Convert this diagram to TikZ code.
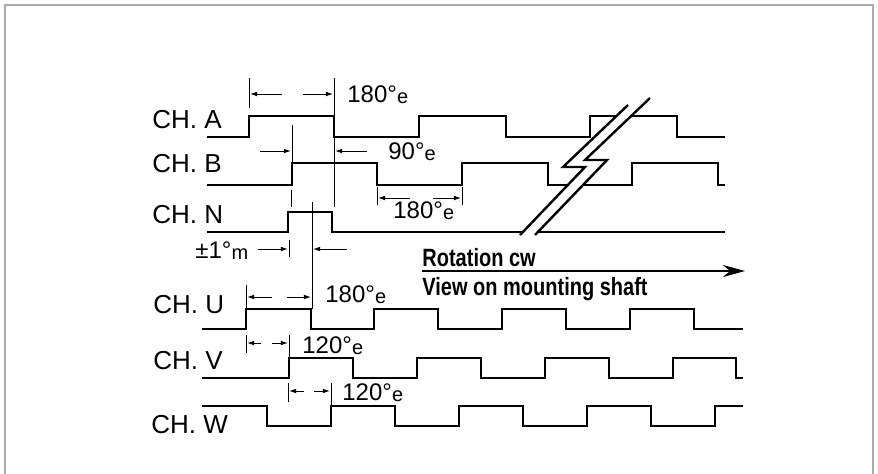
\documentclass[tikz,border=0pt]{standalone}
\usepackage{fontspec}
\setmainfont{Liberation Sans}
\newfontfamily\rotfont[FakeStretch=0.8]{Liberation Sans}
\usetikzlibrary{arrows.meta}
\definecolor{framegray}{RGB}{172,172,172}
\newcommand{\degsub}[1]{\raisebox{-0.6pt}{\fontsize{10}{12}\selectfont #1}}

\begin{document}
\begin{tikzpicture}[x=0.5pt,y=-0.5pt,>={Latex[length=3.6pt,width=2.4pt]},
  wave/.style={line width=1.2pt,line join=miter},
  dim/.style={line width=0.5pt},
  chlab/.style={anchor=base west,inner sep=0pt,font=\fontsize{13}{15}\selectfont},
  dimlab/.style={anchor=base west,inner sep=0pt,font=\fontsize{12}{14}\selectfont},
  rotlab/.style={anchor=base west,inner sep=0pt,font=\rotfont\bfseries\fontsize{12.5}{14}\selectfont}]
\useasboundingbox (0,0) rectangle (878,473);
% cornice
\draw[framegray,line width=1pt] (5,480) -- (5,5) -- (873,5) -- (873,480);

% etichette dei canali
\node[chlab] (chA) at (152,128) {CH. A};
\node[chlab] (chB) at (152,172) {CH. B};
\node[chlab] (chN) at (152,223) {CH. N};
\node[chlab] (chU) at (153,313) {CH. U};
\node[chlab] (chV) at (153,369) {CH. V};
\node[chlab] (chW) at (151,433) {CH. W};

% canali A, B, N
\draw[wave] (207,137) -| (249,116) -| (334,137) -| (419,116) -| (506,137) -| (590,116) -| (677,137) -- (725,137);
\draw[wave] (207,185) -| (292,163) -| (377,185) -| (462,163) -| (548,185) -| (632,163) -| (718,185) -- (725,185);
\draw[wave] (207,232) -| (288,212) -| (332,232) -- (725,232);
% interruzione a fulmine
\fill[white] (628,105) -- (563,167) -- (585,167) -- (520,235) -- (535,235) -- (607,160) -- (585,160) -- (650,98) -- cycle;
\draw[wave] (628,105) -- (563,167) -- (585,167) -- (520,235);
\draw[wave] (650,98) -- (585,160) -- (607,160) -- (535,235);

% canali U, V, W
\draw[wave] (202,329) -| (246,309) -| (311,329) -| (374,309) -| (438,329) -| (502,309) -| (566,329) -| (630,309) -| (694,329) -- (743,329);
\draw[wave] (202,378) -| (289,358) -| (353,378) -| (417,358) -| (481,378) -| (545,358) -| (609,378) -| (673,358) -| (736,378) -- (743,378);
\draw[wave] (202,406) -| (267,426) -| (331,406) -| (395,426) -| (459,406) -| (523,426) -| (587,406) -| (651,426) -| (715,406) -- (743,406);

% 180 gradi su A
\draw[dim] (249,78) -- (249,108);
\draw[dim] (334,78) -- (334,207);
\draw[dim,->] (282,94) -- (250,94);
\draw[dim,->] (303,94) -- (333,94);
\node[dimlab] (dA) at (347,102) {180°\degsub{e}};

% 90 gradi tra A e B
\draw[dim] (292,125) -- (292,163);
\draw[dim] (291,190) -- (291,207);
\draw[dim,->] (260,151) -- (291,151);
\draw[dim,->] (367,151) -- (335,151);
\node[dimlab] (dAB) at (388,159) {90°\degsub{e}};

% 180 gradi sotto B
\draw[dim] (377,187) -- (377,205);
\draw[dim] (462,187) -- (462,205);
\draw[dim,->] (410,198) -- (378,198);
\draw[dim,->] (433,198) -- (461,198);
\node[dimlab] (dB) at (393,218) {180°\degsub{e}};

% tolleranza su N
\draw[dim] (289,240) -- (289,257);
\draw[dim] (312,202) -- (312,309);
\draw[dim,->] (258,249) -- (288,249);
\draw[dim,->] (347,249) -- (313,249);
\node[dimlab] (dN) at (195,258) {±1°\degsub{m}};

% 180 gradi su U
\draw[dim] (246,285) -- (246,309);
\draw[dim,->] (272,297) -- (247,297);
\draw[dim,->] (287,297) -- (311,297);
\node[dimlab] (dU) at (325,302) {180°\degsub{e}};

% 120 gradi su V
\draw[dim] (246,335) -- (246,353);
\draw[dim] (289,335) -- (289,358);
\draw[dim,->] (261,343) -- (247,343);
\draw[dim,->] (272,343) -- (288,343);
\node[dimlab] (dV) at (302,353) {120°\degsub{e}};

% 120 gradi su W
\draw[dim] (288,383) -- (288,402);
\draw[dim] (331,383) -- (331,406);
\draw[dim,->] (304,391) -- (289,391);
\draw[dim,->] (314,391) -- (330,391);
\node[dimlab] (dW) at (342,400) {120°\degsub{e}};

% senso di rotazione
\node[rotlab] (rot) at (422,266) {Rotation cw};
\node[rotlab] (view) at (422,295) {View on mounting shaft};
\coordinate (rotS) at (422,271);
\coordinate (rotE) at (745,271);
\draw[line width=1pt,-{Stealth[length=11pt,width=6pt]}] (rotS) -- (rotE);
\end{tikzpicture}
\end{document}
